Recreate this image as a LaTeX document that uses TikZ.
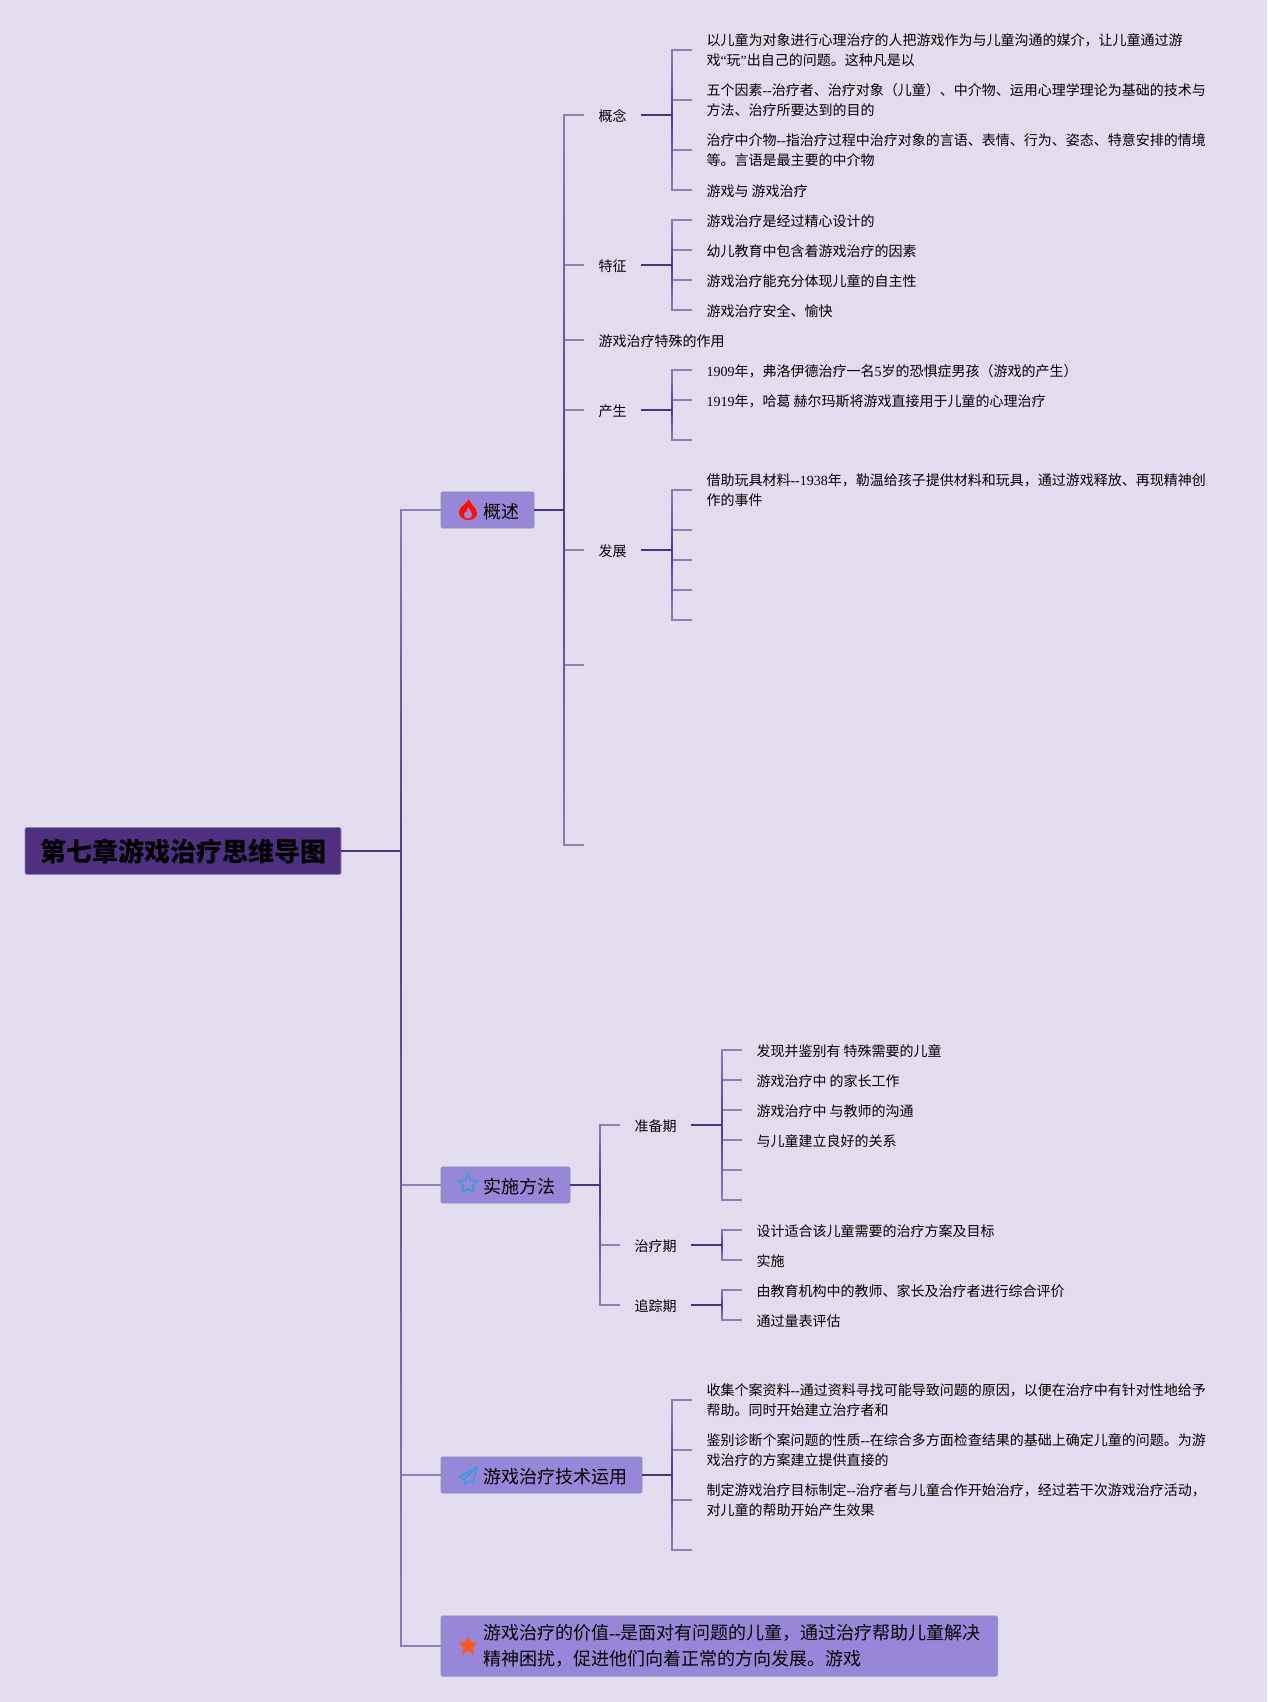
\documentclass[tikz,border=0pt]{standalone}
\usepackage{fontspec}
\setmainfont{Noto Sans CJK SC}
\newfontfamily\latinfont{Liberation Serif}
\newcommand{\lat}[1]{{\latinfont #1}}
\usetikzlibrary{positioning}
\usetikzlibrary{shapes.geometric}
\definecolor{pagecol}{HTML}{E3DBEE}
\definecolor{rootcol}{HTML}{4F2F80}
\definecolor{boxcol}{HTML}{9887D8}
\definecolor{edgecol}{HTML}{7F9BBB}
\definecolor{stemcol}{HTML}{4F2F80}
\definecolor{twigcol}{HTML}{8F80B8}
\definecolor{iconblue}{HTML}{3B9BE0}
\tikzset{
    rootbox/.style={shape=rectangle,rounded corners=1.5pt,draw=twigcol,fill=rootcol,line width=0.8pt,outer sep=0pt,inner xsep=15pt,inner ysep=4pt,minimum height=47pt,font=\fontsize{26}{30}\selectfont\bfseries,anchor=west},
    mainbox/.style={shape=rectangle,rounded corners=1.5pt,draw=edgecol,fill=boxcol,line width=0.8pt,outer sep=0pt,inner xsep=15pt,inner ysep=8.5pt,minimum height=36pt,font=\fontsize{18}{26}\selectfont,anchor=west,align=left,execute at begin node={\leavevmode\rule{0pt}{17.6pt}}},
    subitem/.style={shape=rectangle,outer sep=0pt,inner xsep=14.5pt,inner ysep=0pt,font=\fontsize{14}{19.7}\selectfont,anchor=west,align=left,execute at begin node={\leavevmode\rule{0pt}{14.4pt}}},
    leaf/.style={subitem},
    longleaf/.style={subitem,execute at begin node={\leavevmode\rule{0pt}{16.4pt}}},
    stem/.style={draw=stemcol,line width=1.8pt},
    twig/.style={draw=twigcol,line width=1.3pt},
}
% fading piece of a vertical bus: x, start, end
\newcommand{\busfade}[3]{%
  \foreach \i in {0,...,11}{%
    \pgfmathsetmacro{\pct}{85-\i*7}
    \pgfmathsetmacro{\ya}{#2+(#3-#2)*\i/12}
    \pgfmathsetmacro{\yb}{#2+(#3-#2)*(\i+1)/12}
    \draw[line width=1.3pt,draw=stemcol!\pct!twigcol] (#1,\ya) -- (#1,\yb);
  }}
\begin{document}
\begin{tikzpicture}[x=1pt,y=-1pt]
    \fill[pagecol] (0,0) rectangle (1267,1702);
    \useasboundingbox (0,0) rectangle (1267,1702);
    % create the nodes
    \node[rootbox] (root) at (25,851) {第七章游戏治疗思维导图};
    \node[mainbox] (gaishu) at (441,510) {\hspace*{27pt}概述};
    \node[mainbox] (shishi) at (441,1185) {\hspace*{27pt}实施方法};
    \node[mainbox] (jishu) at (441,1475) {\hspace*{27pt}游戏治疗技术运用};
    \node[mainbox] (jiazhi) at (441,1646) {\hspace*{27pt}游戏治疗的价值\lat{--}是面对有问题的儿童，通过治疗帮助儿童解决\hspace*{1.5pt}\\\hspace*{27pt}精神困扰，促进他们向着正常的方向发展。游戏};
    % first branch
    \node[subitem] (gainian) at (584,115) {概念};
    \node[subitem] (tezheng) at (584,265) {特征};
    \node[subitem] (zuoyong) at (584,340) {游戏治疗特殊的作用};
    \node[subitem] (chansheng) at (584,410) {产生};
    \node[subitem] (fazhan) at (584,550) {发展};
    \coordinate (blank1) at (584,665);
    \coordinate (blank2) at (584,845);
    \node[longleaf] (gn1) at (692,50) {以儿童为对象进行心理治疗的人把游戏作为与儿童沟通的媒介，让儿童通过游\\戏\lat{“}玩\lat{”}出自己的问题。这种凡是以};
    \node[longleaf] (gn2) at (692,100) {五个因素\lat{--}治疗者、治疗对象（儿童）、中介物、运用心理学理论为基础的技术与\\方法、治疗所要达到的目的};
    \node[longleaf] (gn3) at (692,150) {治疗中介物\lat{--}指治疗过程中治疗对象的言语、表情、行为、姿态、特意安排的情境\\等。言语是最主要的中介物};
    \node[leaf] (gn4) at (692,190) {游戏与 游戏治疗};
    \node[leaf] (tz1) at (692,220) {游戏治疗是经过精心设计的};
    \node[leaf] (tz2) at (692,250) {幼儿教育中包含着游戏治疗的因素};
    \node[leaf] (tz3) at (692,280) {游戏治疗能充分体现儿童的自主性};
    \node[leaf] (tz4) at (692,310) {游戏治疗安全、愉快};
    \node[leaf] (cs1) at (692,370) {\lat{1909}年，弗洛伊德治疗一名\lat{5}岁的恐惧症男孩（游戏的产生）};
    \node[leaf] (cs2) at (692,400) {\lat{1919}年，哈葛 赫尔玛斯将游戏直接用于儿童的心理治疗};
    \coordinate (cs3) at (692,440);
    \node[longleaf] (fz1) at (692,490) {借助玩具材料\lat{--1938}年，勒温给孩子提供材料和玩具，通过游戏释放、再现精神创\\作的事件};
    \coordinate (fz2) at (692,530);
    \coordinate (fz3) at (692,560);
    \coordinate (fz4) at (692,590);
    \coordinate (fz5) at (692,620);
    % second branch
    \node[subitem] (zhunbei) at (620,1125) {准备期};
    \node[subitem] (zhiliao) at (620,1245) {治疗期};
    \node[subitem] (zhuizong) at (620,1305) {追踪期};
    \node[leaf] (zb1) at (742,1050) {发现并鉴别有 特殊需要的儿童};
    \node[leaf] (zb2) at (742,1080) {游戏治疗中 的家长工作};
    \node[leaf] (zb3) at (742,1110) {游戏治疗中 与教师的沟通};
    \node[leaf] (zb4) at (742,1140) {与儿童建立良好的关系};
    \coordinate (zb5) at (742,1170);
    \coordinate (zb6) at (742,1200);
    \node[leaf] (zl1) at (742,1230) {设计适合该儿童需要的治疗方案及目标};
    \node[leaf] (zl2) at (742,1260) {实施};
    \node[leaf] (zz1) at (742,1290) {由教育机构中的教师、家长及治疗者进行综合评价};
    \node[leaf] (zz2) at (742,1320) {通过量表评估};
    % third branch
    \node[longleaf] (js1) at (692,1400) {收集个案资料\lat{--}通过资料寻找可能导致问题的原因，以便在治疗中有针对性地给予\\帮助。同时开始建立治疗者和};
    \node[longleaf] (js2) at (692,1450) {鉴别诊断个案问题的性质\lat{--}在综合多方面检查结果的基础上确定儿童的问题。为游\\戏治疗的方案建立提供直接的};
    \node[longleaf] (js3) at (692,1500) {制定游戏治疗目标制定\lat{--}治疗者与儿童合作开始治疗，经过若干次游戏治疗活动，\\对儿童的帮助开始产生效果};
    \coordinate (js4) at (692,1550);
    % connectors
    \foreach \n in {gaishu,shishi,jishu,jiazhi}
        \draw[twig] (root.east) -- ++(60,0) |- (\n.west);
    \foreach \n in {gainian,tezheng,zuoyong,chansheng,fazhan,blank1,blank2}
        \draw[twig] (gaishu.east) -- ++(30,0) |- (\n);
    \foreach \n in {gn1,gn2,gn3,gn4}
        \draw[twig] (gainian.east) -- ++(31,0) |- (\n.west);
    \foreach \n in {tz1,tz2,tz3,tz4}
        \draw[twig] (tezheng.east) -- ++(31,0) |- (\n.west);
    \foreach \n in {cs1,cs2,cs3}
        \draw[twig] (chansheng.east) -- ++(31,0) |- (\n);
    \foreach \n in {fz1,fz2,fz3,fz4,fz5}
        \draw[twig] (fazhan.east) -- ++(31,0) |- (\n);
    \foreach \n in {zhunbei,zhiliao,zhuizong}
        \draw[twig] (shishi.east) -- ++(30,0) |- (\n.west);
    \foreach \n in {zb1,zb2,zb3,zb4,zb5,zb6}
        \draw[twig] (zhunbei.east) -- ++(31,0) |- (\n);
    \foreach \n in {zl1,zl2}
        \draw[twig] (zhiliao.east) -- ++(31,0) |- (\n.west);
    \foreach \n in {zz1,zz2}
        \draw[twig] (zhuizong.east) -- ++(31,0) |- (\n.west);
    \foreach \n in {js1,js2,js3,js4}
        \draw[twig] (jishu.east) -- ++(30,0) |- (\n);
    % darker near the parent
    \busfade{401}{851}{510}
    \busfade{401}{851}{1646}
    \busfade{564}{510}{115}
    \busfade{564}{510}{845}
    \busfade{672}{115}{50}
    \busfade{672}{115}{190}
    \busfade{672}{265}{220}
    \busfade{672}{265}{310}
    \busfade{672}{410}{370}
    \busfade{672}{410}{440}
    \busfade{672}{550}{490}
    \busfade{672}{550}{620}
    \busfade{600}{1185}{1125}
    \busfade{600}{1185}{1305}
    \busfade{722}{1125}{1050}
    \busfade{722}{1125}{1200}
    \busfade{722}{1245}{1230}
    \busfade{722}{1245}{1260}
    \busfade{722}{1305}{1290}
    \busfade{722}{1305}{1320}
    \busfade{672}{1475}{1400}
    \busfade{672}{1475}{1550}
    \foreach \n in {gaishu,shishi,jishu}
        \draw[stem] (\n.east) -- ++(30,0);
    \foreach \n in {gainian,tezheng,chansheng,fazhan,zhunbei,zhiliao,zhuizong}
        \draw[stem] (\n.east) -- ++(31,0);
    \draw[stem] (root.east) -- ++(60,0);
    % icons
    \begin{scope}[shift={([xshift=27pt]gaishu.west)}]
        \fill[red!88!orange,even odd rule] (0,10) .. controls (-6,10) and (-9,6) .. (-9,2) .. controls (-9,-3) and (-4,-4) .. (1,-11) .. controls (2,-6) and (9,-2) .. (9,3) .. controls (9,7) and (6,10) .. (0,10) -- cycle
            (0,8.6) .. controls (-3,8.6) and (-5,6) .. (-3.5,3) .. controls (-2,1.5) and (0,0) .. (0,-3) .. controls (2,0) and (5,3) .. (4,5.5) .. controls (3.5,7.5) and (2,8.6) .. (0,8.6) -- cycle;
    \end{scope}
    \node[star,star points=5,star point ratio=2.1,draw=iconblue,line width=1.5pt,inner sep=0pt,minimum size=20pt] (iconstar) at ([xshift=27pt,yshift=1pt]shishi.west) {};
    \begin{scope}[shift={([xshift=27pt]jishu.west)}]
        \draw[draw=iconblue,line width=1.6pt,line join=round] (9,-8) -- (-9,2) -- (-4,4) -- (-3,9) -- (1,6) -- (5,8) -- cycle (9,-8) -- (-4,4);
    \end{scope}
    \node[star,star points=5,star point ratio=2.1,fill=orange!55!red!90!white,inner sep=0pt,minimum size=20pt] (iconbig) at ([xshift=27pt]jiazhi.west) {};
\end{tikzpicture}
\end{document}
